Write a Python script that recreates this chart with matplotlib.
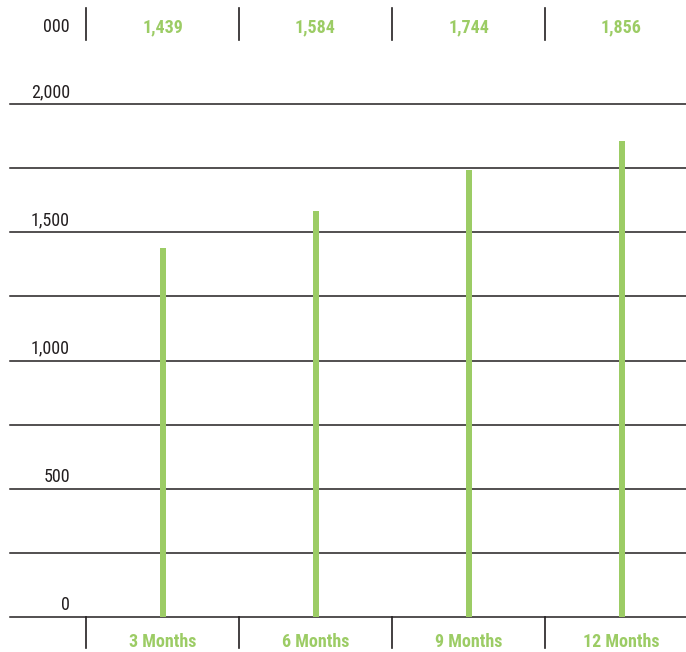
import matplotlib
matplotlib.use('Agg')
import matplotlib.pyplot as plt
from matplotlib import font_manager

# ------------------------------
# Данные
# ------------------------------
periods = ['3 Months', '6 Months', '9 Months', '12 Months']
values = [1439, 1584, 1744, 1856]
grid_ticks = [0, 250, 500, 750, 1000, 1250, 1500, 1750, 2000]
label_ticks = [0, 500, 1000, 1500, 2000]
unit_label = '000'

GREEN = '#9ccc65'
INK = '#231f20'

# узкий шрифт, если есть
fonts = font_manager.fontManager.ttflist
names = {f.name for f in fonts}
stretch = 'normal'
family = ['DejaVu Sans']
for cand in ['Liberation Sans Narrow', 'Roboto Condensed', 'Open Sans Condensed', 'Noto Sans Condensed']:
    if cand in names:
        family = [cand, 'DejaVu Sans']
        break
else:
    cond = [f for f in fonts if f.stretch not in ('normal', 500) and f.name in
            ('DejaVu Sans', 'Noto Sans', 'Roboto', 'Open Sans', 'Liberation Sans')]
    if cond:
        family = [cond[0].name, 'DejaVu Sans']
        stretch = 'condensed'
plt.rcParams['font.family'] = family
plt.rcParams['font.stretch'] = stretch

fig = plt.figure(figsize=(6.86, 6.52), dpi=100)
W, H = 686, 652
y0_px, y2000_px = 617, 104
ax = fig.add_axes([10 / W, (H - y0_px) / H, 1 - 10 / W, (y0_px - y2000_px) / H])

col_w = 153.0
xl = (10 - 162.5) / col_w
xr = (686 - 162.5) / col_w
ax.set_xlim(xl, xr)
ax.set_ylim(0, 2000)
per_px = 2000 / (y0_px - y2000_px)

# сетка
for t in grid_ticks:
    ax.axhline(t, color=INK, lw=1.1, zorder=1, clip_on=False)

# столбцы
xs = list(range(len(values)))
ax.bar(xs, values, width=6 / col_w, color=GREEN, zorder=2)

# подписи оси Y
for t in label_ticks:
    ax.text((70 - 162.5) / col_w, t + 3 * per_px, f'{t:,}', ha='right', va='bottom',
            fontsize=13, color=INK)

# разделители колонок сверху и снизу
top_a, top_b = (y0_px - 8) * per_px, (y0_px - 40) * per_px
bot_a, bot_b = 0, -(648 - y0_px) * per_px
for i in range(len(values)):
    xsep = i - 0.5
    ax.plot([xsep, xsep], [top_a, top_b], color=INK, lw=1.2, clip_on=False)
    ax.plot([xsep, xsep], [bot_a, bot_b], color=INK, lw=1.2, clip_on=False)

# значения сверху
ytop = (y0_px - 27) * per_px
ax.text((70 - 162.5) / col_w, ytop, unit_label, ha='right', va='center', fontsize=13, color=INK)
for x, v in zip(xs, values):
    ax.text(x, ytop, f'{v:,}', ha='center', va='center', fontsize=13,
            fontweight='bold', color=GREEN)

# подписи периодов снизу
ybot = -(642 - y0_px) * per_px
for x, p in zip(xs, periods):
    ax.text(x, ybot, p, ha='center', va='center', fontsize=13,
            fontweight='bold', color=GREEN)

ax.axis('off')
fig.savefig('out.png', dpi=100)
